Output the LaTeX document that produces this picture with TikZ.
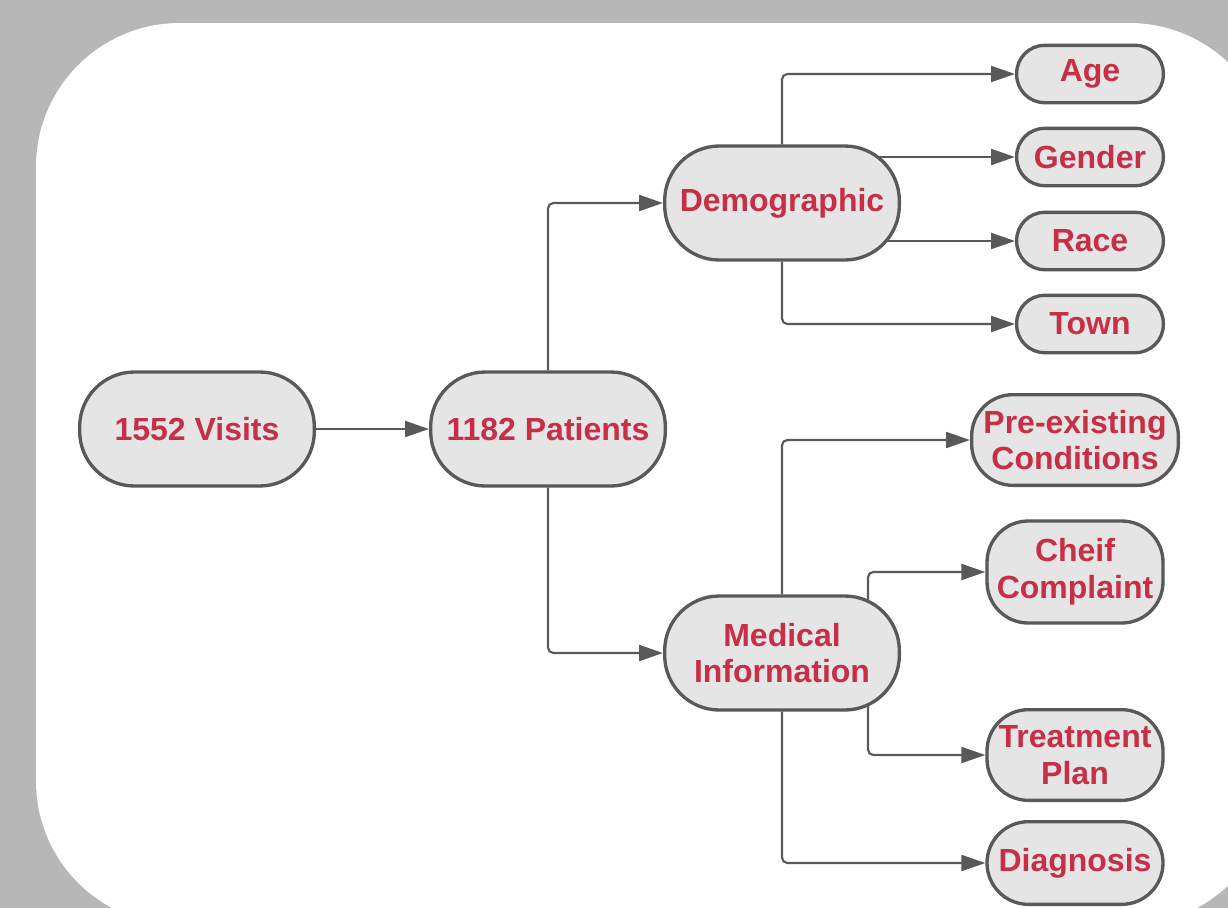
\documentclass[tikz,border=0pt]{standalone}
\usepackage{fontspec}
\setmainfont{Liberation Sans}
\usetikzlibrary{arrows.meta,backgrounds}

\definecolor{bggray}{HTML}{B7B7B7}
\definecolor{boxfill}{HTML}{E5E5E5}
\definecolor{boxline}{HTML}{595959}
\definecolor{txtred}{HTML}{C62F45}

\tikzset{every picture/.style={line width=0.75pt}}
\tikzset{
  box/.style={draw=boxline, fill=boxfill, line width=2.5pt, text=txtred,
    font=\bfseries\fontsize{24}{27.5}\selectfont, align=center, inner sep=0pt},
  bigbox/.style={box, minimum width=176pt, minimum height=85.5pt, rounded corners=41pt},
  leafbox/.style={box, minimum width=110pt, minimum height=43pt, rounded corners=21pt},
  twobox/.style={box, minimum width=132pt, minimum height=68pt, rounded corners=31pt},
  conn/.style={draw=boxline, line width=1.6pt, rounded corners=4pt,
    -{Triangle[length=18pt,width=12pt]}},
}

\begin{document}
\begin{tikzpicture}[x=0.75pt,y=0.75pt,yscale=-1,xscale=1]
  \useasboundingbox (0,0) rectangle (1228,908);
  \clip (0,0) rectangle (1228,908);

  \begin{scope}[on background layer]
    %Background
    \fill [bggray] (0,0) rectangle (1228,908);
    %Rounded Rect
    \fill [white, rounded corners=108pt] (36,23) rectangle (1273,925);
  \end{scope}

  %Main nodes
  \node [bigbox] (visits) at (197,429) {1552 Visits};
  \node [bigbox] (pat) at (548,429) {1182 Patients};
  \node [bigbox] (demo) at (782,203) {Demographic};
  \node [bigbox] (med) at (782,653) {Medical\\Information};

  %Demographic leaves
  \node [leafbox] (age) at (1090,74) {Age};
  \node [leafbox] (gender) at (1090,157) {Gender};
  \node [leafbox] (race) at (1090,241) {Race};
  \node [leafbox] (town) at (1090,324) {Town};

  %Medical leaves
  \node [twobox, minimum width=155pt] (pre) at (1075,440) {Pre-existing\\Conditions};
  \node [twobox, minimum height=76.5pt] (cheif) at (1075,572) {Cheif\\Complaint};
  \node [twobox] (treat) at (1075,755) {Treatment\\Plan};
  \node [twobox, minimum height=62pt] (diag) at (1075,863) {Diagnosis};

  \coordinate (medr) at (868,653);

  %Straight Lines
  \begin{scope}[on background layer]
    \draw [conn] (visits) -- (pat);
    \draw [conn] (pat.north) |- (demo.west);
    \draw [conn] (pat.south) |- (med.west);
    \draw [conn] (demo.north) |- (age.west);
    \draw [conn] (demo.center |- gender) -- (gender.west);
    \draw [conn] (demo.center |- race) -- (race.west);
    \draw [conn] (demo.south) |- (town.west);
    \draw [conn] (med.north) |- (pre.west);
    \draw [conn] (medr) |- (cheif.west);
    \draw [conn] (medr) |- (treat.west);
    \draw [conn] (med.south) |- (diag.west);
  \end{scope}
\end{tikzpicture}
\end{document}
